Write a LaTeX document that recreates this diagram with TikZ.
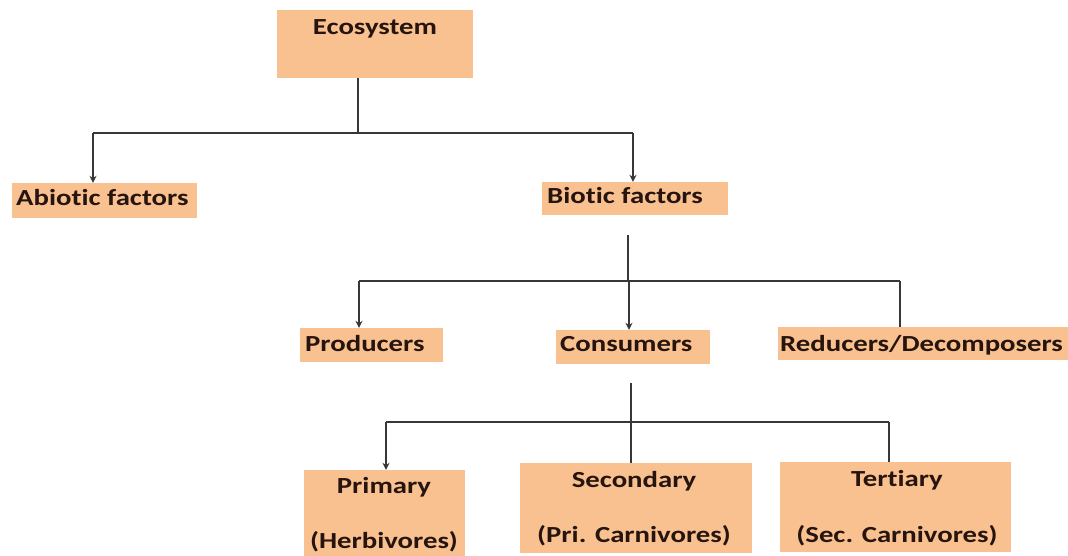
\documentclass[tikz,border=0pt]{standalone}
\usepackage{fontspec}
\newfontfamily\lblfont{Carlito}[FakeStretch=1.25,Ligatures={NoCommon}]
\usetikzlibrary{arrows.meta}
\definecolor{boxfill}{RGB}{249,192,144}
\definecolor{txtcol}{RGB}{38,20,14}
\definecolor{linecol}{RGB}{55,55,55}
\tikzset{
  box/.style={draw=none, fill=boxfill, inner sep=0pt, anchor=center},
  lbl/.style={inner sep=0pt, text=txtcol, font=\lblfont\bfseries\fontsize{23}{23}\selectfont},
  conn/.style={draw=linecol, line width=1.8pt},
  arr/.style={conn, -{Stealth[length=7pt,width=7pt]}}
}
\begin{document}
\begin{tikzpicture}[x=1pt,y=-1pt]
\useasboundingbox (0,0) rectangle (1068,555);
% boxes
\node[box, minimum width=196pt, minimum height=68pt] (eco)  at (375,44) {};
\node[box, minimum width=185pt, minimum height=35pt] (abio) at (104.5,200.5) {};
\node[box, minimum width=186pt, minimum height=33pt] (bio)  at (635,198.5) {};
\node[box, minimum width=143pt, minimum height=34pt] (prod) at (371.5,345) {};
\node[box, minimum width=154pt, minimum height=34pt] (cons) at (633,347) {};
\node[box, minimum width=290pt, minimum height=33pt] (red)  at (923,343.5) {};
\node[box, minimum width=161pt, minimum height=87pt] (prim) at (384.5,513.5) {};
\node[box, minimum width=232pt, minimum height=90pt] (sec)  at (636,508) {};
\node[box, minimum width=231pt, minimum height=90pt] (ter)  at (895.5,507) {};
% texts
\node[lbl, anchor=base] (teco) at (375,34) {Ecosystem};
\node[lbl, anchor=base west] (tabio) at (16,205) {Abiotic factors};
\node[lbl, anchor=base west] (tbio) at (547,203) {Biotic factors};
\node[lbl, anchor=base west] (tprod) at (305,351) {Producers};
\node[lbl, anchor=base west] (tcons) at (560,351) {Consumers};
\node[lbl, anchor=base west] (tred) at (780,351) {Reducers/Decomposers};
\node[lbl, anchor=base] (tprim1) at (384,493) {Primary};
\node[lbl, anchor=base] (tprim2) at (384,548) {(Herbivores)};
\node[lbl, anchor=base] (tsec1) at (634,487) {Secondary};
\node[lbl, anchor=base] (tsec2) at (634,542) {(Pri. Carnivores)};
\node[lbl, anchor=base] (tter1) at (897,486) {Tertiary};
\node[lbl, anchor=base] (tter2) at (897,542) {(Sec. Carnivores)};
% junctions
\coordinate (j1) at (358,133);
\coordinate (j1l) at (93,133);
\coordinate (j1r) at (633,133);
\coordinate (j2t) at (628,235);
\coordinate (j2) at (628,281);
\coordinate (j2l) at (359,281);
\coordinate (j2m) at (629,281);
\coordinate (j2r) at (900,281);
\coordinate (j3t) at (631,383);
\coordinate (j3) at (631,422);
\coordinate (j3l) at (386,422);
\coordinate (j3r) at (889,422);
% connectors
\draw[conn] (eco.south -| j1) -- (j1);
\draw[conn] (j1l) -- (j1r);
\draw[arr] (j1l) -- (abio.north -| j1l);
\draw[arr] (j1r) -- (bio.north -| j1r);
\draw[conn] (j2t) -- (j2);
\draw[conn] (j2l) -- (j2r);
\draw[arr] (j2l) -- (prod.north -| j2l);
\draw[arr] (j2m) -- (cons.north -| j2m);
\draw[conn] (j2r) -- (red.north -| j2r);
\draw[conn] (j3t) -- (sec.north -| j3t);
\draw[conn] (j3l) -- (j3r);
\draw[arr] (j3l) -- (prim.north -| j3l);
\draw[conn] (j3r) -- (ter.north -| j3r);
\end{tikzpicture}
\end{document}
